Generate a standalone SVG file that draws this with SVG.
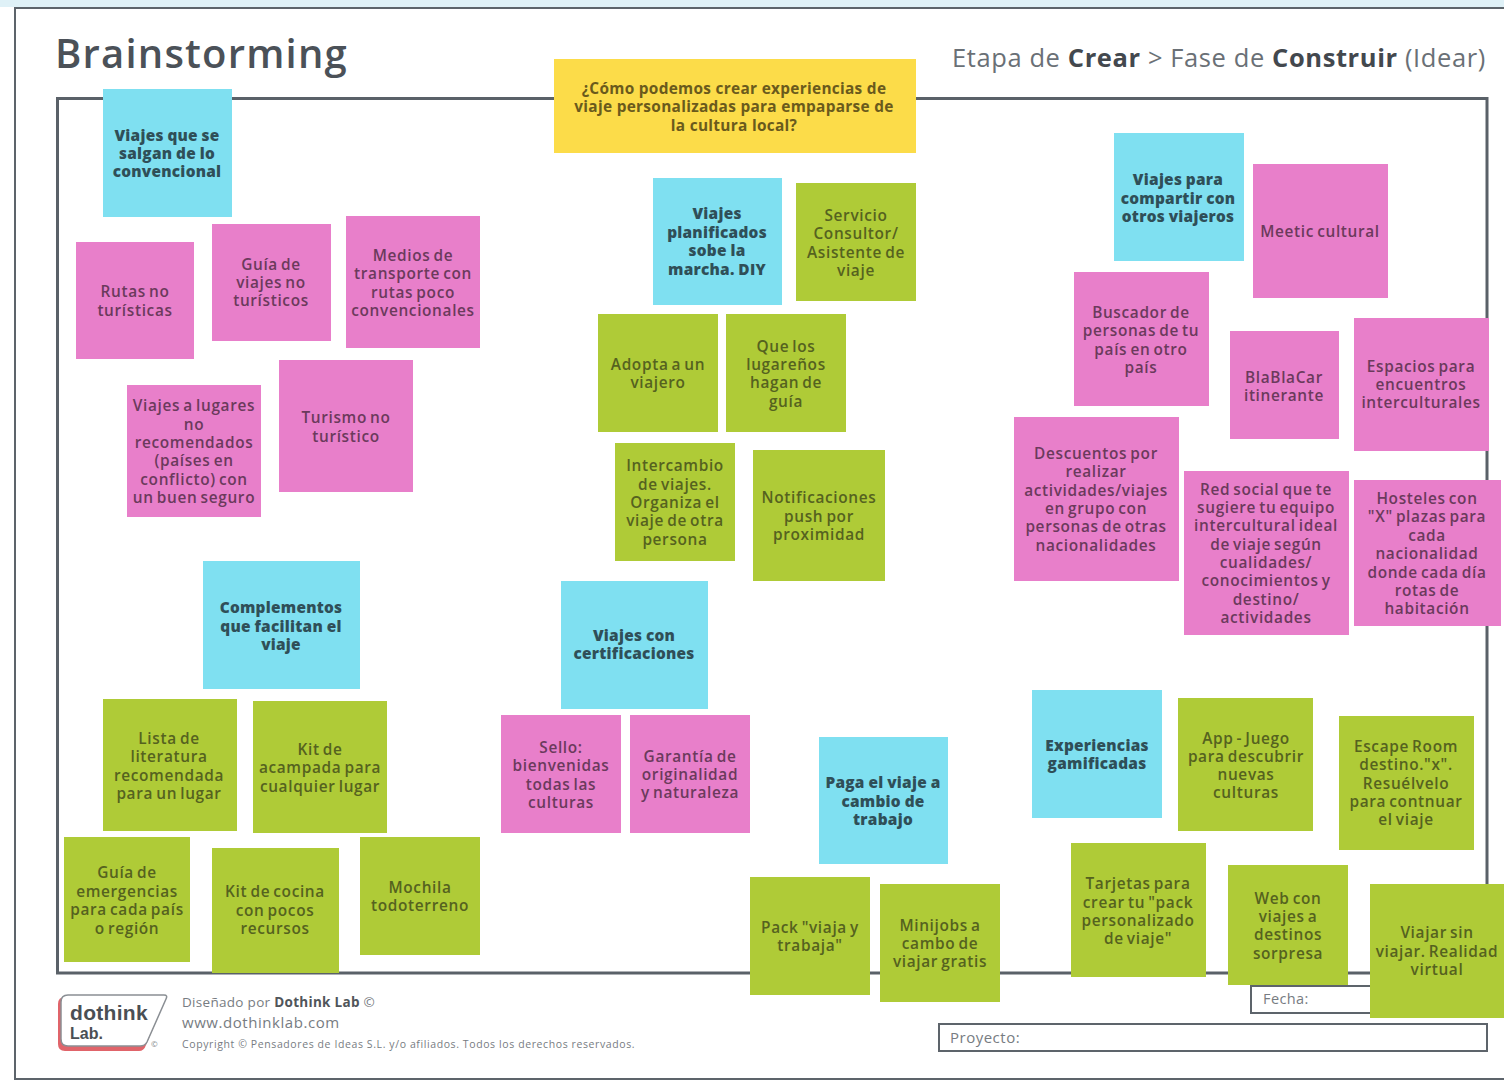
<svg xmlns="http://www.w3.org/2000/svg" width="1504" height="1081" viewBox="0 0 1504 1081">
<style>
text{font-family:"Open Sans","Liberation Sans",sans-serif}
.l{font-size:15.400px;font-weight:600;text-anchor:middle;letter-spacing:.65px;word-spacing:-1.500px;transform:translateY(.5px)}
.blue rect{fill:#7fe0f1}.blue text{font-weight:800;fill:#2f4f58;letter-spacing:.25px;word-spacing:-.5px}
.pink rect{fill:#e87fca}.pink text{fill:#6b3a5c}
.green rect{fill:#afcb37}.green text{fill:#55621f}
.yellow rect{fill:#fcdc49}.yellow text{fill:#6a5a1c;font-weight:700;letter-spacing:.3px;word-spacing:0}
.box{fill:#fff;stroke:#5d646b}
.h{fill:#6a7076;letter-spacing:.6px}.hb{fill:#43484e;font-weight:700}
.f{fill:#777c82}
.logo{font-family:"Liberation Sans",sans-serif;font-weight:700;fill:#4a4f54}
</style>
<rect width="1504" height="1081" fill="#fff"/>
<rect x="0" y="0" width="1504" height="7" fill="#dff1f7"/>
<g id="page-frame">
<path d="M1504 8H15V1079H1504" fill="none" stroke="#5d646b" stroke-width="2"/>
<rect x="57.500" y="98.500" width="1429.500" height="874.500" fill="#fff" stroke="#5a6168" stroke-width="3"/>
</g>
<g id="header">
<text x="55" y="68" font-size="40" font-weight="600" letter-spacing="1.200" fill="#4b5158">Brainstorming</text>
<text x="952" y="67" font-size="25.500" class="h">Etapa de <tspan class="hb">Crear</tspan> &gt; Fase de <tspan class="hb">Construir</tspan> (Idear)</text>
</g>
<g id="footer">
<path d="M65 997H163Q167 997 165 1001L146 1045Q144 1051 139 1051H65Q58 1051 58 1044V1004Q58 997 65 997Z" fill="#e0646a"/>
<path d="M68 995H164Q168 995 166 999L147 1042Q145 1046 140 1046H68Q61 1046 61 1039V1002Q61 995 68 995Z" fill="#fff" stroke="#8a8f94" stroke-width="1.500"/>
<text x="70" y="1020" font-size="21" letter-spacing=".3" class="logo">dothink</text>
<text x="70" y="1039" font-size="16" class="logo">Lab.</text>
<text x="151" y="1047" font-size="8" class="f">©</text>
<text x="182" y="1007" font-size="13.500" letter-spacing=".3" class="f">Diseñado por <tspan font-weight="700" fill="#50555a">Dothink Lab</tspan> ©</text>
<text x="182" y="1028" font-size="15" letter-spacing=".55" class="f">www.dothinklab.com</text>
<text x="182" y="1048" font-size="10.500" letter-spacing=".6" class="f">Copyright © Pensadores de Ideas S.L. y/o afiliados. Todos los derechos reservados.</text>
<rect class="box" x="1251" y="986" width="150" height="27" stroke-width="2"/>
<text x="1263" y="1004" font-size="14.500" letter-spacing=".4" class="f">Fecha:</text>
<rect class="box" x="939" y="1024" width="548" height="27" stroke-width="2"/>
<text x="950" y="1043" font-size="15" letter-spacing=".5" class="f">Proyecto:</text>
</g>
<g id="connectors"/>
<g id="n-pregunta" class="yellow"><rect x="554" y="59" width="362" height="94"/><text class="l"><tspan x="734" y="93">¿Cómo podemos crear experiencias de</tspan><tspan x="734" y="111">viaje personalizadas para empaparse de</tspan><tspan x="734" y="130">la cultura local?</tspan></text></g>
<g id="n-convencional" class="blue"><rect x="103" y="89" width="129" height="128"/><text class="l"><tspan x="167" y="140">Viajes que se</tspan><tspan x="167" y="158">salgan de lo</tspan><tspan x="167" y="176">convencional</tspan></text></g>
<g id="n-rutas" class="pink"><rect x="76" y="242" width="118" height="117"/><text class="l"><tspan x="135" y="296">Rutas no</tspan><tspan x="135" y="315">turísticas</tspan></text></g>
<g id="n-guia-viajes" class="pink"><rect x="212" y="224" width="119" height="117"/><text class="l"><tspan x="271" y="269">Guía de</tspan><tspan x="271" y="287">viajes no</tspan><tspan x="271" y="305">turísticos</tspan></text></g>
<g id="n-medios" class="pink"><rect x="346" y="216" width="134" height="132"/><text class="l"><tspan x="413" y="260">Medios de</tspan><tspan x="413" y="278">transporte con</tspan><tspan x="413" y="297">rutas poco</tspan><tspan x="413" y="315">convencionales</tspan></text></g>
<g id="n-lugares" class="pink"><rect x="127" y="385" width="134" height="132"/><text class="l"><tspan x="194" y="410">Viajes a lugares</tspan><tspan x="194" y="429">no</tspan><tspan x="194" y="447">recomendados</tspan><tspan x="194" y="465">(países en</tspan><tspan x="194" y="484">conflicto) con</tspan><tspan x="194" y="502">un buen seguro</tspan></text></g>
<g id="n-turismo" class="pink"><rect x="279" y="360" width="134" height="132"/><text class="l"><tspan x="346" y="422">Turismo no</tspan><tspan x="346" y="441">turístico</tspan></text></g>
<g id="n-planificados" class="blue"><rect x="653" y="178" width="129" height="127"/><text class="l"><tspan x="717" y="218">Viajes</tspan><tspan x="717" y="237">planificados</tspan><tspan x="717" y="255">sobe la</tspan><tspan x="717" y="274">marcha. DIY</tspan></text></g>
<g id="n-servicio" class="green"><rect x="796" y="183" width="120" height="118"/><text class="l"><tspan x="856" y="220">Servicio</tspan><tspan x="856" y="238">Consultor/</tspan><tspan x="856" y="257">Asistente de</tspan><tspan x="856" y="275">viaje</tspan></text></g>
<g id="n-adopta" class="green"><rect x="598" y="314" width="120" height="118"/><text class="l"><tspan x="658" y="369">Adopta a un</tspan><tspan x="658" y="387">viajero</tspan></text></g>
<g id="n-lugarenos" class="green"><rect x="726" y="314" width="120" height="118"/><text class="l"><tspan x="786" y="351">Que los</tspan><tspan x="786" y="369">lugareños</tspan><tspan x="786" y="387">hagan de</tspan><tspan x="786" y="406">guía</tspan></text></g>
<g id="n-intercambio" class="green"><rect x="615" y="443" width="120" height="118"/><text class="l"><tspan x="675" y="470">Intercambio</tspan><tspan x="675" y="489">de viajes.</tspan><tspan x="675" y="507">Organiza el</tspan><tspan x="675" y="525">viaje de otra</tspan><tspan x="675" y="544">persona</tspan></text></g>
<g id="n-notificaciones" class="green"><rect x="753" y="450" width="132" height="131"/><text class="l"><tspan x="819" y="502">Notificaciones</tspan><tspan x="819" y="521">push por</tspan><tspan x="819" y="539">proximidad</tspan></text></g>
<g id="n-compartir" class="blue"><rect x="1114" y="133" width="130" height="128"/><text class="l"><tspan x="1178" y="184">Viajes para</tspan><tspan x="1178" y="203">compartir con</tspan><tspan x="1178" y="221">otros viajeros</tspan></text></g>
<g id="n-meetic" class="pink"><rect x="1253" y="164" width="135" height="134"/><text class="l"><tspan x="1320" y="236">Meetic cultural</tspan></text></g>
<g id="n-buscador" class="pink"><rect x="1074" y="272" width="135" height="134"/><text class="l"><tspan x="1141" y="317">Buscador de</tspan><tspan x="1141" y="335">personas de tu</tspan><tspan x="1141" y="354">país en otro</tspan><tspan x="1141" y="372">país</tspan></text></g>
<g id="n-blablacar" class="pink"><rect x="1230" y="331" width="109" height="108"/><text class="l"><tspan x="1284" y="382">BlaBlaCar</tspan><tspan x="1284" y="400">itinerante</tspan></text></g>
<g id="n-espacios" class="pink"><rect x="1354" y="318" width="135" height="133"/><text class="l"><tspan x="1421" y="371">Espacios para</tspan><tspan x="1421" y="389">encuentros</tspan><tspan x="1421" y="407">interculturales</tspan></text></g>
<g id="n-descuentos" class="pink"><rect x="1014" y="417" width="165" height="164"/><text class="l"><tspan x="1096" y="458">Descuentos por</tspan><tspan x="1096" y="476">realizar</tspan><tspan x="1096" y="495">actividades/viajes</tspan><tspan x="1096" y="513">en grupo con</tspan><tspan x="1096" y="531">personas de otras</tspan><tspan x="1096" y="550">nacionalidades</tspan></text></g>
<g id="n-red-social" class="pink"><rect x="1184" y="471" width="165" height="164"/><text class="l"><tspan x="1266" y="494">Red social que te</tspan><tspan x="1266" y="512">sugiere tu equipo</tspan><tspan x="1266" y="530">intercultural ideal</tspan><tspan x="1266" y="549">de viaje según</tspan><tspan x="1266" y="567">cualidades/</tspan><tspan x="1266" y="585">conocimientos y</tspan><tspan x="1266" y="604">destino/</tspan><tspan x="1266" y="622">actividades</tspan></text></g>
<g id="n-hosteles" class="pink"><rect x="1354" y="480" width="147" height="146"/><text class="l"><tspan x="1427" y="503">Hosteles con</tspan><tspan x="1427" y="521">"X" plazas para</tspan><tspan x="1427" y="540">cada</tspan><tspan x="1427" y="558">nacionalidad</tspan><tspan x="1427" y="577">donde cada día</tspan><tspan x="1427" y="595">rotas de</tspan><tspan x="1427" y="613">habitación</tspan></text></g>
<g id="n-complementos" class="blue"><rect x="203" y="561" width="157" height="128"/><text class="l"><tspan x="281" y="612">Complementos</tspan><tspan x="281" y="631">que facilitan el</tspan><tspan x="281" y="649">viaje</tspan></text></g>
<g id="n-literatura" class="green"><rect x="103" y="699" width="134" height="132"/><text class="l"><tspan x="169" y="743">Lista de</tspan><tspan x="169" y="761">literatura</tspan><tspan x="169" y="780">recomendada</tspan><tspan x="169" y="798">para un lugar</tspan></text></g>
<g id="n-acampada" class="green"><rect x="253" y="701" width="134" height="132"/><text class="l"><tspan x="320" y="754">Kit de</tspan><tspan x="320" y="772">acampada para</tspan><tspan x="320" y="791">cualquier lugar</tspan></text></g>
<g id="n-emergencias" class="green"><rect x="64" y="837" width="126" height="125"/><text class="l"><tspan x="127" y="877">Guía de</tspan><tspan x="127" y="896">emergencias</tspan><tspan x="127" y="914">para cada país</tspan><tspan x="127" y="933">o región</tspan></text></g>
<g id="n-cocina" class="green"><rect x="212" y="848" width="127" height="125"/><text class="l"><tspan x="275" y="896">Kit de cocina</tspan><tspan x="275" y="915">con pocos</tspan><tspan x="275" y="933">recursos</tspan></text></g>
<g id="n-mochila" class="green"><rect x="360" y="837" width="120" height="118"/><text class="l"><tspan x="420" y="892">Mochila</tspan><tspan x="420" y="910">todoterreno</tspan></text></g>
<g id="n-certificaciones" class="blue"><rect x="561" y="581" width="147" height="128"/><text class="l"><tspan x="634" y="640">Viajes con</tspan><tspan x="634" y="658">certificaciones</tspan></text></g>
<g id="n-sello" class="pink"><rect x="501" y="715" width="120" height="118"/><text class="l"><tspan x="561" y="752">Sello:</tspan><tspan x="561" y="770">bienvenidas</tspan><tspan x="561" y="789">todas las</tspan><tspan x="561" y="807">culturas</tspan></text></g>
<g id="n-garantia" class="pink"><rect x="630" y="715" width="120" height="118"/><text class="l"><tspan x="690" y="761">Garantía de</tspan><tspan x="690" y="779">originalidad</tspan><tspan x="690" y="797">y naturaleza</tspan></text></g>
<g id="n-paga" class="blue"><rect x="819" y="737" width="129" height="127"/><text class="l"><tspan x="883" y="787">Paga el viaje a</tspan><tspan x="883" y="806">cambio de</tspan><tspan x="883" y="824">trabajo</tspan></text></g>
<g id="n-pack" class="green"><rect x="750" y="877" width="120" height="118"/><text class="l"><tspan x="810" y="932">Pack "viaja y</tspan><tspan x="810" y="950">trabaja"</tspan></text></g>
<g id="n-minijobs" class="green"><rect x="880" y="884" width="120" height="118"/><text class="l"><tspan x="940" y="930">Minijobs a</tspan><tspan x="940" y="948">cambo de</tspan><tspan x="940" y="966">viajar gratis</tspan></text></g>
<g id="n-gamificadas" class="blue"><rect x="1032" y="690" width="130" height="128"/><text class="l"><tspan x="1097" y="750">Experiencias</tspan><tspan x="1097" y="768">gamificadas</tspan></text></g>
<g id="n-app" class="green"><rect x="1178" y="698" width="135" height="133"/><text class="l"><tspan x="1246" y="743">App - Juego</tspan><tspan x="1246" y="761">para descubrir</tspan><tspan x="1246" y="779">nuevas</tspan><tspan x="1246" y="797">culturas</tspan></text></g>
<g id="n-escape" class="green"><rect x="1339" y="716" width="135" height="134"/><text class="l"><tspan x="1406" y="751">Escape Room</tspan><tspan x="1406" y="769">destino."x".</tspan><tspan x="1406" y="788">Resuélvelo</tspan><tspan x="1406" y="806">para contnuar</tspan><tspan x="1406" y="824">el viaje</tspan></text></g>
<g id="n-tarjetas" class="green"><rect x="1071" y="843" width="135" height="134"/><text class="l"><tspan x="1138" y="888">Tarjetas para</tspan><tspan x="1138" y="907">crear tu "pack</tspan><tspan x="1138" y="925">personalizado</tspan><tspan x="1138" y="943">de viaje"</tspan></text></g>
<g id="n-web" class="green"><rect x="1228" y="865" width="120" height="120"/><text class="l"><tspan x="1288" y="903">Web con</tspan><tspan x="1288" y="921">viajes a</tspan><tspan x="1288" y="939">destinos</tspan><tspan x="1288" y="958">sorpresa</tspan></text></g>
<g id="n-virtual" class="green"><rect x="1370" y="884" width="134" height="134"/><text class="l"><tspan x="1437" y="937">Viajar sin</tspan><tspan x="1437" y="956">viajar. Realidad</tspan><tspan x="1437" y="974">virtual</tspan></text></g>
</svg>
